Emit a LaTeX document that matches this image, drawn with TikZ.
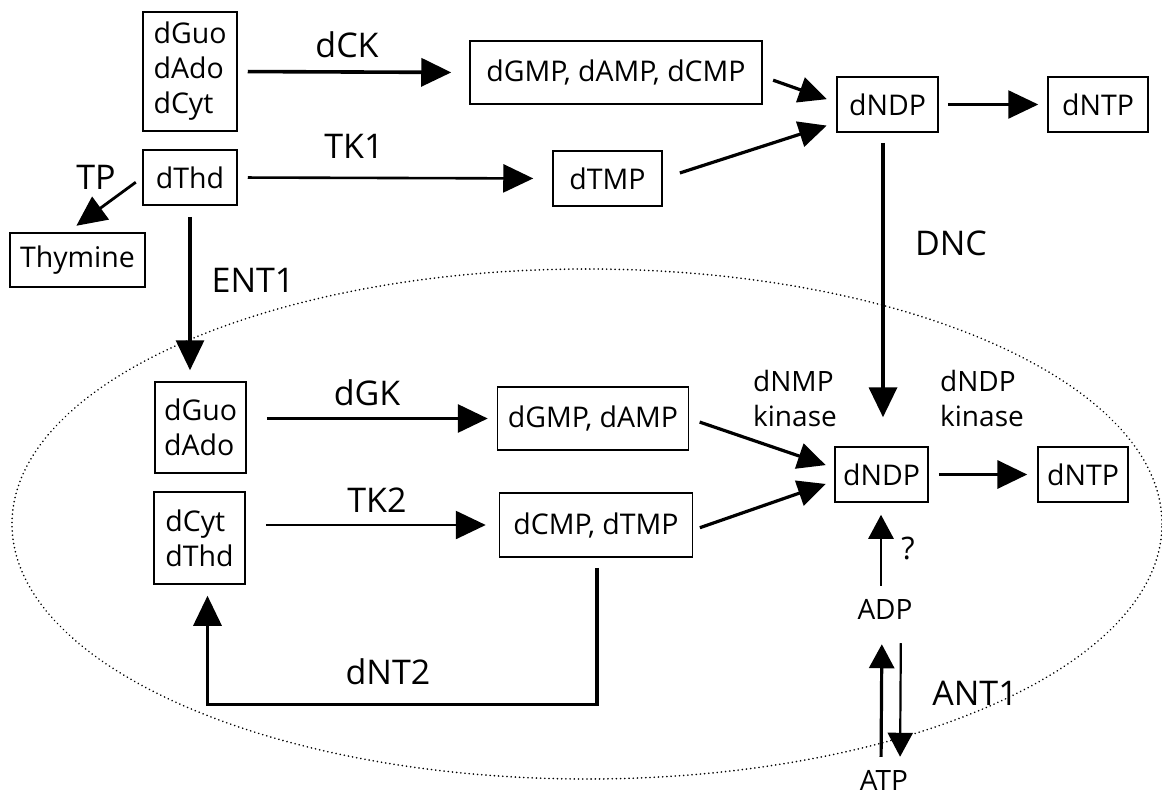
\documentclass[tikz,border=0pt]{standalone}
\usepackage{fontspec}
\setmainfont{Open Sans}
\usetikzlibrary{arrows.meta}
\begin{document}
\begin{tikzpicture}[x=1pt,y=-1pt,
  box/.style={draw,line width=1.5pt,inner sep=0pt,align=left,font=\fontsize{28.5}{35}\selectfont},
  lab/.style={inner sep=0pt,font=\fontsize{34}{40}\selectfont},
  small/.style={inner sep=0pt,align=left,font=\fontsize{28}{35}\selectfont},
  arr/.style={-{Triangle[length=30pt,width=28pt]},line width=3.2pt},
  darr/.style={-{Triangle[length=28pt,width=26pt]},line width=3.2pt},
  sarr/.style={-{Triangle[length=24pt,width=25pt]},line width=2.8pt},
  cell/.style={line width=1.8pt,dash pattern=on 0.01pt off 4.2pt,line cap=round}]
\useasboundingbox (0,0) rectangle (1162,796);
% membrane
\draw[cell] (587,524) ellipse [x radius=575pt, y radius=255pt];
% boxes
\node[box,minimum width=94pt,minimum height=119pt] (b1) at (190,71.5) {dGuo\\dAdo\\dCyt};
\node[box,minimum width=94pt,minimum height=55pt] (thd) at (190,177.5) {dThd};
\node[box,minimum width=135pt,minimum height=54pt] (thy) at (77.5,260) {Thymine};
\node[box,minimum width=292pt,minimum height=63pt] (mp3) at (616,72.5) {dGMP, dAMP, dCMP};
\node[box,minimum width=109pt,minimum height=55pt] (tmp) at (607.5,178.5) {dTMP};
\node[box,minimum width=101pt,minimum height=55pt] (ndpa) at (887.5,104.5) {dNDP};
\node[box,minimum width=100pt,minimum height=55pt] (ntpa) at (1098,104.5) {dNTP};
\node[box,minimum width=91pt,minimum height=91pt] (gd) at (200.5,427.5) {dGuo\\dAdo};
\node[box,minimum width=91pt,minimum height=92pt] (ct) at (199.5,538) {dCyt\\dThd};
\node[box,minimum width=191pt,minimum height=63pt] (ga) at (593,418.5) {dGMP, dAMP};
\node[box,minimum width=193pt,minimum height=64pt] (cm) at (596,525) {dCMP, dTMP};
\node[box,minimum width=93pt,minimum height=55pt] (ndpb) at (881.5,474.5) {dNDP};
\node[box,minimum width=90pt,minimum height=55pt] (ntpb) at (1083,474.5) {dNTP};
\node[small] (adp) at (885,609) {ADP};
\node[small] (atp) at (884,780) {ATP};
% labels
\node[lab] (lck) at (347,45) {dCK};
\node[lab] (ltk1) at (354,146) {TK1};
\node[lab] (ltp) at (96,177) {TP};
\node[lab] (lent) at (253,280) {ENT1};
\node[lab] (ldnc) at (951,243) {DNC};
\node[lab] (ldgk) at (367,393) {dGK};
\node[lab] (ltk2) at (377,500) {TK2};
\node[lab] (ldnt) at (388,672) {dNT2};
\node[lab] (lant) at (975,693) {ANT1};
\node[small] (lnmp) at (795,398) {dNMP\\kinase};
\node[small] (lndp) at (982,398) {dNDP\\kinase};
\node[small,font=\fontsize{31}{35}\selectfont] (lq) at (908,548) {?};
% connectors, outside (yshift is in page direction: positive = up)
\draw[arr,line width=3.6pt,shorten <=10pt,shorten >=18pt] (b1.east) -- (mp3.west);
\draw[arr,line width=2.6pt,shorten <=10pt,shorten >=19pt] (thd.east) -- (tmp.west);
\draw[arr,line width=2.8pt,shorten <=8pt,shorten >=11pt] (thd.west) -- ([xshift=-10pt]thy.north);
\draw[arr,shorten <=11pt,shorten >=11pt] (thd.south) -- (thd.south |- gd.north);
\draw[darr,shorten <=11pt,shorten >=10pt] ([yshift=-4pt]mp3.east) -- ([yshift=2pt]ndpa.west);
\draw[darr,shorten <=18pt,shorten >=10pt] (tmp.east) -- ([yshift=-18pt]ndpa.west);
\draw[arr,line width=2.6pt,shorten <=9pt,shorten >=9pt] (ndpa.east) -- (ntpa.west);
\draw[arr,line width=3.6pt,shorten <=10pt,shorten >=29pt] ([xshift=-4.5pt]ndpa.south) -- ([xshift=-4.5pt]ndpa.south |- ndpb.north);
% connectors, inside
\draw[arr,shorten <=20pt,shorten >=9pt] (gd.east |- ga.west) -- (ga.west);
\draw[arr,line width=2.6pt,shorten <=20pt,shorten >=13pt] (ct.east |- cm.west) -- (cm.west);
\draw[darr,shorten <=11pt,shorten >=9pt] (ga.east) -- ([yshift=6.5pt]ndpb.west);
\draw[darr,shorten <=7pt,shorten >=9pt] ([yshift=-5pt]cm.east) -- ([yshift=-6.5pt]ndpb.west);
\draw[arr,line width=3.6pt,shorten <=10pt,shorten >=10pt] (ndpb.east) -- (ntpb.west);
\draw[arr,shorten <=10pt,shorten >=11pt] ([xshift=1pt]cm.south) -- ++(0,147) -| ([xshift=8pt]ct.south);
\draw[sarr,shorten <=13pt,shorten >=12pt] ([xshift=-4pt]adp.north) -- ([xshift=-4pt]adp.north |- ndpb.south);
\draw[sarr,line width=3.2pt,shorten <=13pt,shorten >=25pt] ([xshift=-3pt]atp.north) -- ([xshift=-3pt]adp.south);
\draw[sarr,line width=2.2pt,shorten <=24pt,shorten >=13pt] ([xshift=16pt]adp.south) -- ([xshift=16pt]atp.north);
\end{tikzpicture}
\end{document}
